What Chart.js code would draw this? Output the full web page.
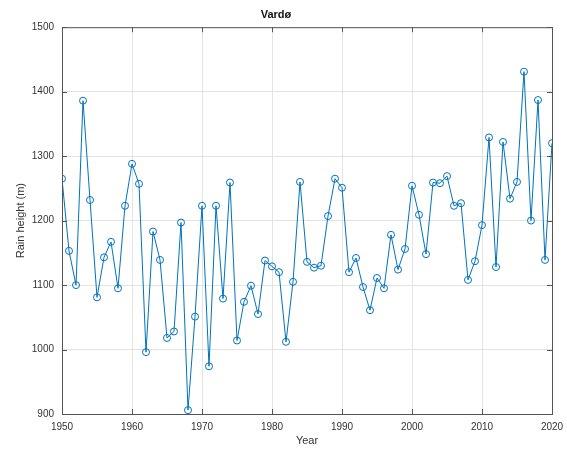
<!DOCTYPE html>
<html lang="en">
<head>
  <meta charset="UTF-8" />
  <title>Vardø</title>
  <script src="https://cdn.jsdelivr.net/npm/chart.js"></script>
  <style>
    html, body { margin: 0; padding: 0; background: #fff; }
    #rainChart { display: block; }
  </style>
</head>
<body>
  <canvas id="rainChart" width="567" height="451"></canvas>

  <script>
    const years = [
      1950, 1951, 1952, 1953, 1954, 1955, 1956, 1957, 1958, 1959,
      1960, 1961, 1962, 1963, 1964, 1965, 1966, 1967, 1968, 1969,
      1970, 1971, 1972, 1973, 1974, 1975, 1976, 1977, 1978, 1979,
      1980, 1981, 1982, 1983, 1984, 1985, 1986, 1987, 1988, 1989,
      1990, 1991, 1992, 1993, 1994, 1995, 1996, 1997, 1998, 1999,
      2000, 2001, 2002, 2003, 2004, 2005, 2006, 2007, 2008, 2009,
      2010, 2011, 2012, 2013, 2014, 2015, 2016, 2017, 2018, 2019,
      2020
    ];
    const rainHeight = [
      1265, 1153, 1100, 1386, 1232, 1081, 1143, 1167, 1095, 1223,
      1288, 1257,  996, 1183, 1139, 1018, 1028, 1197,  906, 1051,
      1223,  974, 1223, 1079, 1259, 1014, 1074, 1099, 1055, 1138,
      1129, 1120, 1012, 1105, 1260, 1136, 1127, 1130, 1207, 1265,
      1251, 1120, 1142, 1097, 1061, 1111, 1095, 1178, 1124, 1156,
      1254, 1209, 1148, 1259, 1258, 1269, 1223, 1227, 1108, 1137,
      1193, 1329, 1128, 1322, 1234, 1260, 1431, 1200, 1387, 1139,
      1320
    ];
    const yearTicks = [1950, 1960, 1970, 1980, 1990, 2000, 2010, 2020];
    const heightTicks = [900, 1000, 1100, 1200, 1300, 1400, 1500];

    const AXIS_COLOR = '#555555';
    const LINE_BLUE = '#0072BD';
    const FONT = '"Liberation Sans", Arial, sans-serif';

    // matlab style box: outline on all four sides, ticks pointing inward
    const boxPlugin = {
      id: 'boxPlugin',
      afterDraw(chart) {
        const { ctx, chartArea: a, scales: { x, y } } = chart;
        const len = 5;
        ctx.save();
        ctx.strokeStyle = AXIS_COLOR;
        ctx.lineWidth = 1;
        ctx.strokeRect(a.left + 0.5, a.top + 0.5, a.right - a.left, a.bottom - a.top);
        ctx.beginPath();
        yearTicks.forEach(v => {
          const px = Math.round(x.getPixelForValue(v)) + 0.5;
          ctx.moveTo(px, a.bottom); ctx.lineTo(px, a.bottom - len);
          ctx.moveTo(px, a.top); ctx.lineTo(px, a.top + len);
        });
        heightTicks.forEach(v => {
          const py = Math.round(y.getPixelForValue(v)) + 0.5;
          ctx.moveTo(a.left, py); ctx.lineTo(a.left + len, py);
          ctx.moveTo(a.right, py); ctx.lineTo(a.right - len, py);
        });
        ctx.stroke();
        ctx.restore();
      }
    };

    new Chart(document.getElementById('rainChart').getContext('2d'), {
      type: 'line',
      data: {
        datasets: [{
          label: 'Vardø',
          data: years.map((yr, i) => ({ x: yr, y: rainHeight[i] })),
          borderColor: LINE_BLUE,
          borderWidth: 1,
          pointStyle: 'circle',
          pointRadius: 3.5,
          pointBorderWidth: 1,
          pointBorderColor: LINE_BLUE,
          pointBackgroundColor: 'rgba(0,0,0,0)',
          tension: 0,
          fill: false
        }]
      },
      options: {
        responsive: false,
        animation: false,
        layout: { padding: { left: 0, right: 15, top: 0, bottom: 0 } },
        plugins: {
          legend: { display: false },
          tooltip: { enabled: false },
          title: {
            display: true,
            text: 'Vardø',
            color: '#111',
            font: { family: FONT, size: 11, weight: 'bold' },
            padding: { top: 8, bottom: 6 }
          }
        },
        scales: {
          x: {
            type: 'linear',
            min: 1950,
            max: 2020,
            afterBuildTicks: s => { s.ticks = yearTicks.map(v => ({ value: v })); },
            afterFit: s => {
              s.height = 37;
              // let the outer labels hang into the layout padding
              s.paddingLeft = 0;
              s.paddingRight = 0;
            },
            ticks: {
              color: '#333',
              font: { family: FONT, size: 10 },
              padding: 7,
              maxRotation: 0,
              callback: v => String(v)
            },
            grid: { color: '#e3e3e3', drawTicks: false },
            border: { display: false },
            title: {
              display: true,
              text: 'Year',
              color: '#333',
              font: { family: FONT, size: 11 },
              padding: { top: 0, bottom: 3 }
            }
          },
          y: {
            min: 900,
            max: 1500,
            afterBuildTicks: s => { s.ticks = heightTicks.map(v => ({ value: v })); },
            afterFit: s => { s.width = 62; },
            ticks: {
              color: '#333',
              font: { family: FONT, size: 10 },
              padding: 8,
              callback: v => String(v)
            },
            grid: { color: '#e3e3e3', drawTicks: false },
            border: { display: false },
            title: {
              display: true,
              text: 'Rain height (m)',
              color: '#333',
              font: { family: FONT, size: 11 },
              padding: { top: 14, bottom: 0 }
            }
          }
        }
      },
      plugins: [boxPlugin]
    });
  </script>
</body>
</html>
